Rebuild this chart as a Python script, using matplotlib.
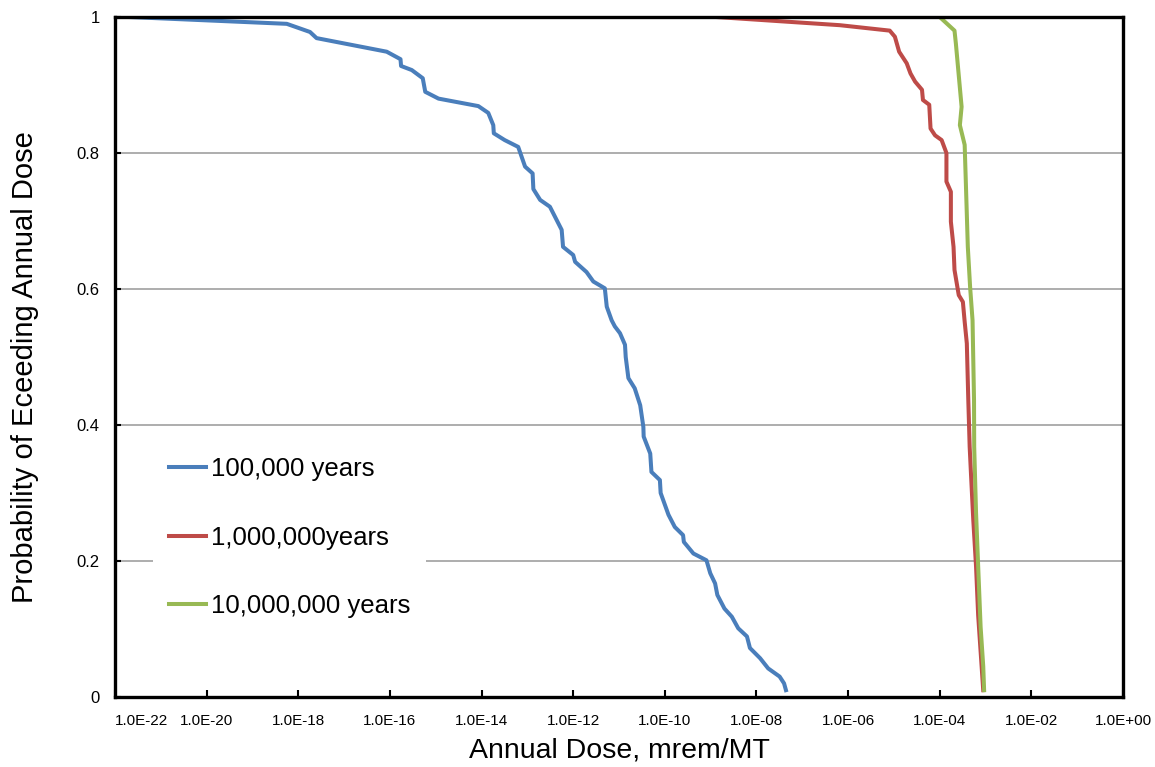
import matplotlib
matplotlib.use("Agg")
import matplotlib.pyplot as plt
from matplotlib.ticker import FixedLocator, FuncFormatter

plt.rcParams['font.family'] = ['Liberation Sans', 'DejaVu Sans']

# annual dose (mrem/MT) vs probability of exceeding
dose_1e5 = [2.1e-22, 5.6e-19, 1.8e-18, 2.5e-18, 8.5e-17, 1.7e-16, 1.75e-16, 3.0e-16, 5.2e-16, 5.9e-16,
            1.15e-15, 8.5e-15, 1.4e-14, 1.8e-14, 1.85e-14, 3.2e-14, 6.3e-14, 8.9e-14, 1.3e-13, 1.35e-13,
            1.9e-13, 3.1e-13, 5.6e-13, 6.0e-13, 1.0e-12, 1.1e-12, 1.95e-12, 2.75e-12, 4.9e-12, 5.4e-12,
            6.9e-12, 8.1e-12, 1.05e-11, 1.35e-11, 1.4e-11, 1.6e-11, 2.2e-11, 2.9e-11, 3.4e-11, 3.45e-11,
            4.8e-11, 5.1e-11, 7.8e-11, 8.1e-11, 1.2e-10, 1.65e-10, 2.5e-10, 2.6e-10, 4.2e-10, 8.1e-10,
            9.8e-10, 1.25e-9, 1.4e-9, 2.0e-9, 2.9e-9, 4.0e-9, 6.2e-9, 7.2e-9, 1.2e-8, 1.8e-8,
            3.2e-8, 4.0e-8, 4.4e-8]
prob_1e5 = [1.0, 0.99, 0.978, 0.969, 0.949, 0.938, 0.928, 0.922, 0.91, 0.89,
            0.88, 0.869, 0.859, 0.841, 0.829, 0.819, 0.809, 0.78, 0.77, 0.747,
            0.731, 0.721, 0.687, 0.662, 0.65, 0.64, 0.625, 0.611, 0.601, 0.574,
            0.554, 0.545, 0.535, 0.518, 0.5, 0.469, 0.454, 0.429, 0.397, 0.383,
            0.358, 0.331, 0.319, 0.3, 0.268, 0.25, 0.238, 0.228, 0.211, 0.201,
            0.182, 0.167, 0.15, 0.13, 0.118, 0.101, 0.089, 0.072, 0.057, 0.042,
            0.03, 0.02, 0.01]

dose_1e6 = [1.35e-9, 6.6e-7, 8.1e-6, 1.05e-5, 1.3e-5, 1.9e-5, 2.3e-5, 2.9e-5, 4.1e-5, 4.3e-5,
            5.9e-5, 6.3e-5, 7.9e-5, 1.1e-4, 1.4e-4, 1.4e-4, 1.75e-4, 1.75e-4, 2.0e-4, 2.1e-4,
            2.6e-4, 3.2e-4, 3.5e-4, 3.9e-4, 4.2e-4, 4.5e-4, 4.8e-4, 5.4e-4, 6.2e-4, 6.9e-4, 8.9e-4]
prob_1e6 = [1.0, 0.988, 0.98, 0.971, 0.949, 0.932, 0.917, 0.905, 0.893, 0.878,
            0.871, 0.836, 0.826, 0.819, 0.8, 0.758, 0.743, 0.699, 0.662, 0.628,
            0.591, 0.581, 0.552, 0.52, 0.437, 0.368, 0.329, 0.26, 0.192, 0.12, 0.01]

dose_1e7 = [1.0e-4, 2.1e-4, 2.25e-4, 2.7e-4, 3.0e-4, 2.75e-4, 3.5e-4, 3.7e-4, 4.1e-4, 4.6e-4,
            5.2e-4, 5.6e-4, 5.65e-4, 6.2e-4, 6.9e-4, 7.8e-4, 8.9e-4, 9.3e-4]
prob_1e7 = [1.0, 0.98, 0.961, 0.902, 0.868, 0.841, 0.812, 0.76, 0.662, 0.603,
            0.554, 0.437, 0.368, 0.271, 0.192, 0.103, 0.045, 0.01]

labels = ["100,000 years", "1,000,000years", "10,000,000 years"]
colors = ["#4a7ebb", "#be4b48", "#98b954"]

fig = plt.figure(figsize=(11.55, 7.67), dpi=100)
ax = fig.add_axes([0.0996, 0.0913, 0.8727, 0.8865])

ax.plot(dose_1e5, prob_1e5, color=colors[0], lw=2.9, label=labels[0], solid_joinstyle='round')
ax.plot(dose_1e6, prob_1e6, color=colors[1], lw=2.9, label=labels[1], solid_joinstyle='round')
ax.plot(dose_1e7, prob_1e7, color=colors[2], lw=2.9, label=labels[2], solid_joinstyle='round')

ax.set_xscale('log')
ax.set_xlim(1e-22, 1e0)
ax.set_ylim(0, 1)

xt = [10.0 ** e for e in range(-22, 1, 2)]
ax.xaxis.set_major_locator(FixedLocator(xt))
ax.xaxis.set_minor_locator(FixedLocator([]))
ax.xaxis.set_major_formatter(FuncFormatter(lambda v, p: "%.1E" % v))
ax.set_yticks([0, 0.2, 0.4, 0.6, 0.8, 1.0])
ax.set_yticklabels(["0", "0.2", "0.4", "0.6", "0.8", "1"])

ax.tick_params(axis='x', direction='in', length=5, width=1.5, labelsize=11, pad=12)
ax.tick_params(axis='y', direction='in', length=4, width=1.5, labelsize=12, pad=11)
# first x label sits flush with the left spine, like the original
ax.get_xticklabels()[0].set_ha('left')

ax.grid(axis='y', color='#a0a0a0', lw=1.2)
ax.set_axisbelow(True)
for s in ax.spines.values():
    s.set_linewidth(2.4)
    s.set_color('black')

ax.set_xlabel("Annual Dose, mrem/MT", fontsize=20.5, labelpad=7)
ax.set_ylabel("Probability of Eceeding Annual Dose", fontsize=21)
ax.yaxis.set_label_coords(-0.075, 0.485)

leg = ax.legend(loc='upper left', bbox_to_anchor=(0.025, 0.394), fontsize=18.5,
                frameon=True, fancybox=False, handlelength=1.45, handletextpad=0.2,
                labelspacing=1.72, borderpad=0.6)
leg.get_frame().set_facecolor('white')
leg.get_frame().set_edgecolor('none')
leg.get_frame().set_alpha(1)

fig.savefig("out.png", dpi=100)
